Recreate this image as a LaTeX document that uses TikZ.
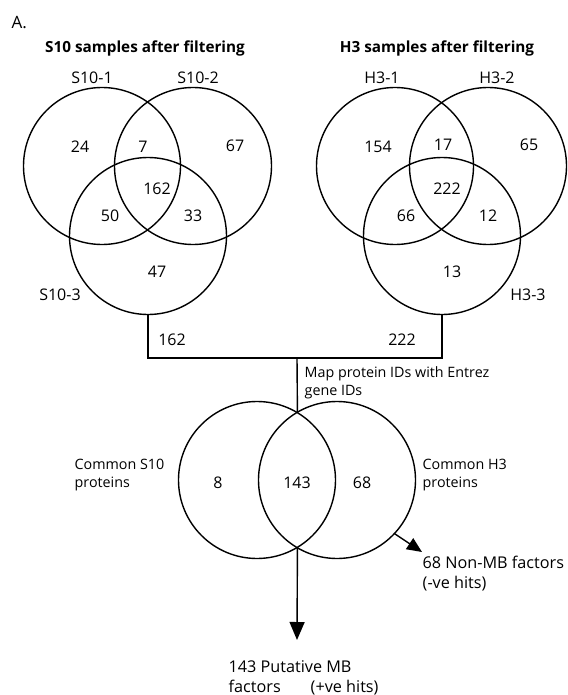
\documentclass[tikz,border=0pt]{standalone}
\usepackage{fontspec}
\setmainfont{Open Sans}
\usetikzlibrary{arrows.meta}
\begin{document}
\begin{tikzpicture}[x=1pt,y=-1pt,line width=1.4pt,
  venn/.style={circle,draw,minimum size=157pt,inner sep=0pt,outer sep=0pt},
  num/.style={font=\fontsize{16}{20}\selectfont,inner sep=0pt},
  ttl/.style={font=\bfseries\fontsize{15.3}{19}\selectfont,inner sep=0pt,anchor=base},
  note/.style={font=\fontsize{14.3}{18}\selectfont,align=left,inner sep=0pt,anchor=base west},
  bignote/.style={note,font=\fontsize{16.2}{20}\selectfont},
  arr/.style={-{Triangle[length=18pt,width=15pt]}}]
\useasboundingbox (0,0) rectangle (567,695);
\node[font=\fontsize{17}{20}\selectfont,inner sep=0pt,anchor=base west] (lblA) at (11,29) {A.};
\node[ttl] (t1) at (145,53) {S10 samples after filtering};
\node[ttl] (t2) at (437,53) {H3 samples after filtering};
% S10 Venn
\node[venn] (s1) at (102,166) {};
\node[venn] (s2) at (193,166) {};
\node[venn] (s3) at (148,236) {};
\node[num] (ls1) at (92,78) {S10-1};
\node[num] (ls2) at (198,78) {S10-2};
\node[num] (ls3) at (60,295) {S10-3};
\node[num] (n24) at (80,147) {24};
\node[num] (n7) at (143,147) {7};
\node[num] (n67) at (235,146) {67};
\node[num] (n162) at (157,189) {162};
\node[num] (n50) at (110,216) {50};
\node[num] (n33) at (193,216) {33};
\node[num] (n47) at (157,272) {47};
% H3 Venn
\node[venn] (h1) at (395,166) {};
\node[venn] (h2) at (488,166) {};
\node[venn] (h3) at (442,236) {};
\node[num] (lh1) at (382,78) {H3-1};
\node[num] (lh2) at (497,78) {H3-2};
\node[num] (lh3) at (528,295) {H3-3};
\node[num] (m154) at (378,147) {154};
\node[num] (m17) at (443,145) {17};
\node[num] (m65) at (529,145) {65};
\node[num] (m222) at (447,189) {222};
\node[num] (m66) at (406,216) {66};
\node[num] (m12) at (488,216) {12};
\node[num] (m13) at (452,272) {13};
% bracket
\coordinate (jn) at (297,358);
\draw (s3.south) |- (jn) -| (h3.south);
\node[num] (b162) at (172,340) {162};
\node[num] (b222) at (402,340) {222};
% lower Venn
\node[venn] (lc) at (257,480) {};
\node[venn] (rc) at (337,480) {};
\draw (jn) -- (lc.59);
\node[note] (map) at (304,395) {Map protein IDs with Entrez\\gene IDs};
\node[note] (cs10) at (74,487) {Common S10\\proteins};
\node[note] (ch3) at (422,487) {Common H3\\proteins};
\node[num] (c8) at (218,483) {8};
\node[num] (c143) at (297,483) {143};
\node[num] (c68) at (362,483) {68};
% arrows
\coordinate (tipd) at (297,640);
\coordinate (tipr) at (422,552);
\draw[arr] (lc.-59) -- (tipd);
\draw[arr,-{Triangle[length=15pt,width=13pt]}] (rc.-43) -- (tipr);
\node[bignote] (neg) at (422,588) {68 Non-MB factors\\(-ve hits)};
\node[bignote] (pos) at (228,692) {143 Putative MB\\factors\hspace{30pt}(+ve hits)};
\end{tikzpicture}
\end{document}
